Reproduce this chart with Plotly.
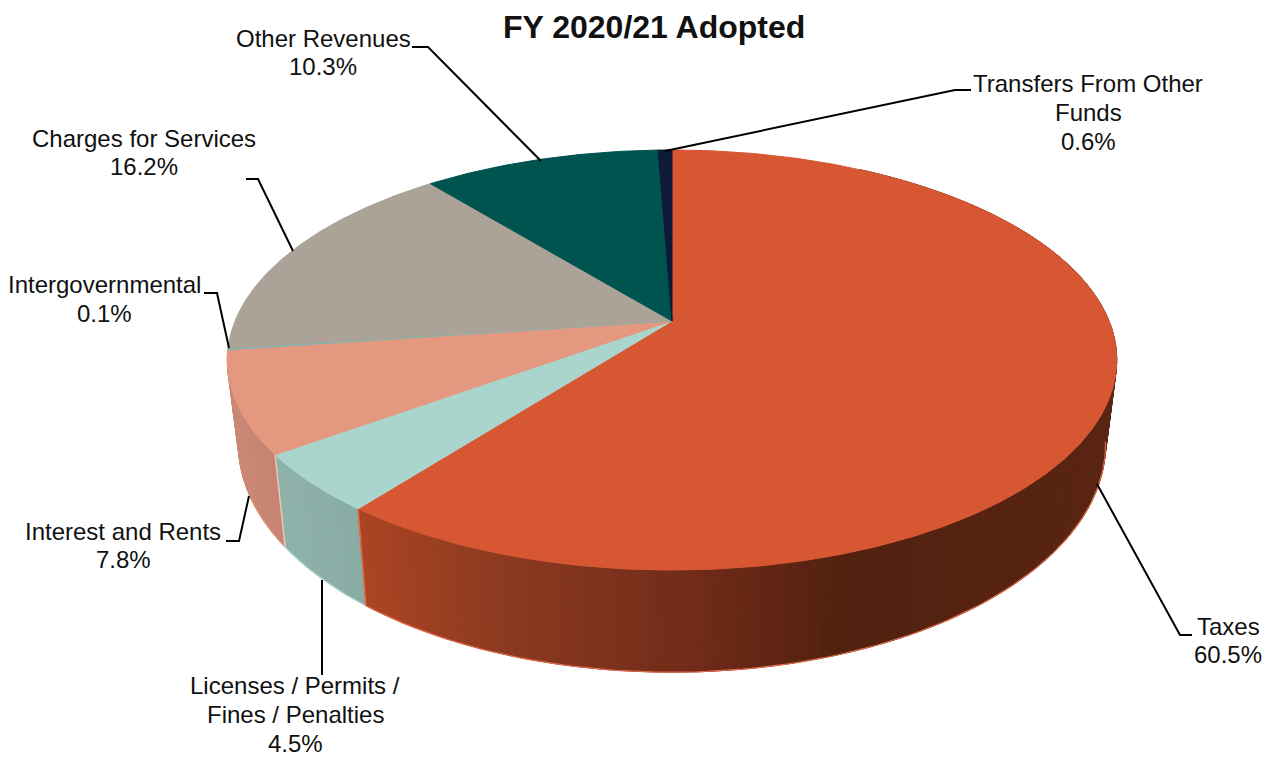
import numpy as np
import plotly.graph_objects as go

# ---- data (clockwise from 12 o'clock) ----
categories = ["Taxes", "Licenses / Permits /<br>Fines / Penalties", "Interest and Rents",
              "Intergovernmental", "Charges for Services", "Other Revenues",
              "Transfers From Other<br>Funds"]
values = [60.5, 4.5, 7.8, 0.1, 16.2, 10.3, 0.6]
top_colors = ["#D75733", "#A9D5CD", "#E49880", "#74B8B8", "#ACA398", "#005450", "#0E1A38"]
title = "FY 2020/21 Adopted"

# ---- label placement: centre of each text block, leader polyline ----
label_xy = [(1228, 640.5), (295, 714.5), (123, 545.5), (104, 299), (144, 152.5), (323, 52.5), (1088, 112.5)]
LINE_GAP = 28.7
leaders = [
    [(1097, 484), (1180, 635), (1192, 635)],
    [(322, 580), (322, 675)],
    [(249, 496), (239, 541), (226, 541)],
    [(229, 348), (217, 293), (204, 293)],
    [(293, 251), (258, 179), (246, 179)],
    [(541, 161), (428, 47), (412, 47)],
    [(665, 151), (955, 90), (971, 90)],
]

# ---- tilted-disc projection ----
CX, K = 672, -0.1857
def project(theta, a, y0, b):
    u, v = np.sin(theta), -np.cos(theta)
    d = 1 + K * v
    return CX + a * u / d, y0 + b * v / d
def top(theta):
    return project(theta, 437, 321, 202.8)
def bottom(theta):
    return project(theta, 426, 402, 220)

def lerp_hex(stops, x):
    xs = [s[0] for s in stops]
    rgb = [[int(s[1][i:i + 2], 16) for s in stops] for i in (1, 3, 5)]
    return "rgb(%d,%d,%d)" % tuple(np.interp(x, xs, c) for c in rgb)

wall_stops = {
    0: [(358, "#AC4523"), (500, "#8C3A20"), (700, "#702B19"), (850, "#52210F"), (1110, "#5A2513")],
    1: [(275, "#8FB3AA"), (366, "#88ABA2")],
    2: [(225, "#CB8976"), (290, "#C58270")],
}
edge_colors = {0: "#E0694A", 1: "#A9D5CD", 2: "#E49880"}
# part of the lower rim that is on the outline, in degrees clockwise from 12 o'clock
RIM_FROM, RIM_TO = np.radians(100), np.radians(246)

fig = go.Figure()
frac = np.cumsum([0] + values) / sum(values) * 2 * np.pi

# side wall, drawn first so the top face covers its hidden part
for i in [2, 1, 0]:
    a0, a1 = frac[i], frac[i + 1]
    if i == 0:
        a0 = np.radians(30)        # the hidden back of the wall is not needed
    n = max(int((a1 - a0) / np.radians(1.0)), 2)
    edges = np.linspace(a0, a1, n + 1)
    for t0, t1 in zip(edges[:-1], edges[1:]):
        x0, y0 = top(t0); x1, y1 = top(t1)
        x2, y2 = bottom(t1); x3, y3 = bottom(t0)
        col = lerp_hex(wall_stops[i], (x0 + x1) / 2)
        fig.add_trace(go.Scatter(x=[x0, x1, x2, x3, x0], y=[y0, y1, y2, y3, y0], mode="lines",
                                 fill="toself", fillcolor=col, line=dict(color=col, width=1),
                                 hoverinfo="skip", showlegend=False))
    arc = np.linspace(max(a0, RIM_FROM), min(a1, RIM_TO), 120)
    bx, by = bottom(arc)
    fig.add_trace(go.Scatter(x=bx, y=by, mode="lines", line=dict(color=edge_colors[i], width=1.2),
                             hoverinfo="skip", showlegend=False))

# light seams where the wall changes slice
for t, col in [(frac[1], "#E0694A"), (frac[2], "#EBC6B4")]:
    sx0, sy0 = top(t); sx1, sy1 = bottom(t)
    fig.add_trace(go.Scatter(x=[sx0, sx1], y=[sy0, sy1], mode="lines",
                             line=dict(color=col, width=1.5), hoverinfo="skip", showlegend=False))

# top face
for i, (name, val, col) in enumerate(zip(categories, values, top_colors)):
    arc = np.linspace(frac[i], frac[i + 1], max(int(val * 6), 4))
    ax, ay = top(arc)
    px, py = CX, 321
    xs = np.concatenate([[px], ax, [px]])
    ys = np.concatenate([[py], ay, [py]])
    fig.add_trace(go.Scatter(x=xs, y=ys, mode="lines", fill="toself", fillcolor=col,
                             line=dict(color=col, width=1), name=name.replace("<br>", " "),
                             text=f"{val}%", hoverinfo="name+text", showlegend=False))

# leader lines
for pts in leaders:
    fig.add_trace(go.Scatter(x=[p[0] for p in pts], y=[p[1] for p in pts], mode="lines",
                             line=dict(color="#000000", width=2), hoverinfo="skip", showlegend=False))

annotations = []
for c, v, (lx, ly) in zip(categories, values, label_xy):
    lines = c.split("<br>") + [f"{v}%"]
    for k, line in enumerate(lines):
        annotations.append(dict(
            x=lx, y=ly + (k - (len(lines) - 1) / 2) * LINE_GAP, xref="x", yref="y", text=line,
            showarrow=False, xanchor="center", yanchor="middle", align="center",
            font=dict(family="Liberation Sans", size=24, color="#111111")))
annotations.append(dict(x=654, y=27, xref="x", yref="y", text=f"<b>{title}</b>", showarrow=False,
                        xanchor="center", yanchor="middle",
                        font=dict(family="Liberation Sans", size=32, color="#111111")))

fig.update_layout(
    width=1276, height=757, margin=dict(l=0, r=0, t=0, b=0),
    paper_bgcolor="#FFFFFF", plot_bgcolor="#FFFFFF", showlegend=False,
    xaxis=dict(range=[0, 1276], visible=False, fixedrange=True),
    yaxis=dict(range=[757, 0], visible=False, fixedrange=True),
    annotations=annotations,
)
fig.write_html("out.html", config={"displayModeBar": False},
               post_script="document.body.style.margin='0';document.documentElement.style.overflow='hidden';")
